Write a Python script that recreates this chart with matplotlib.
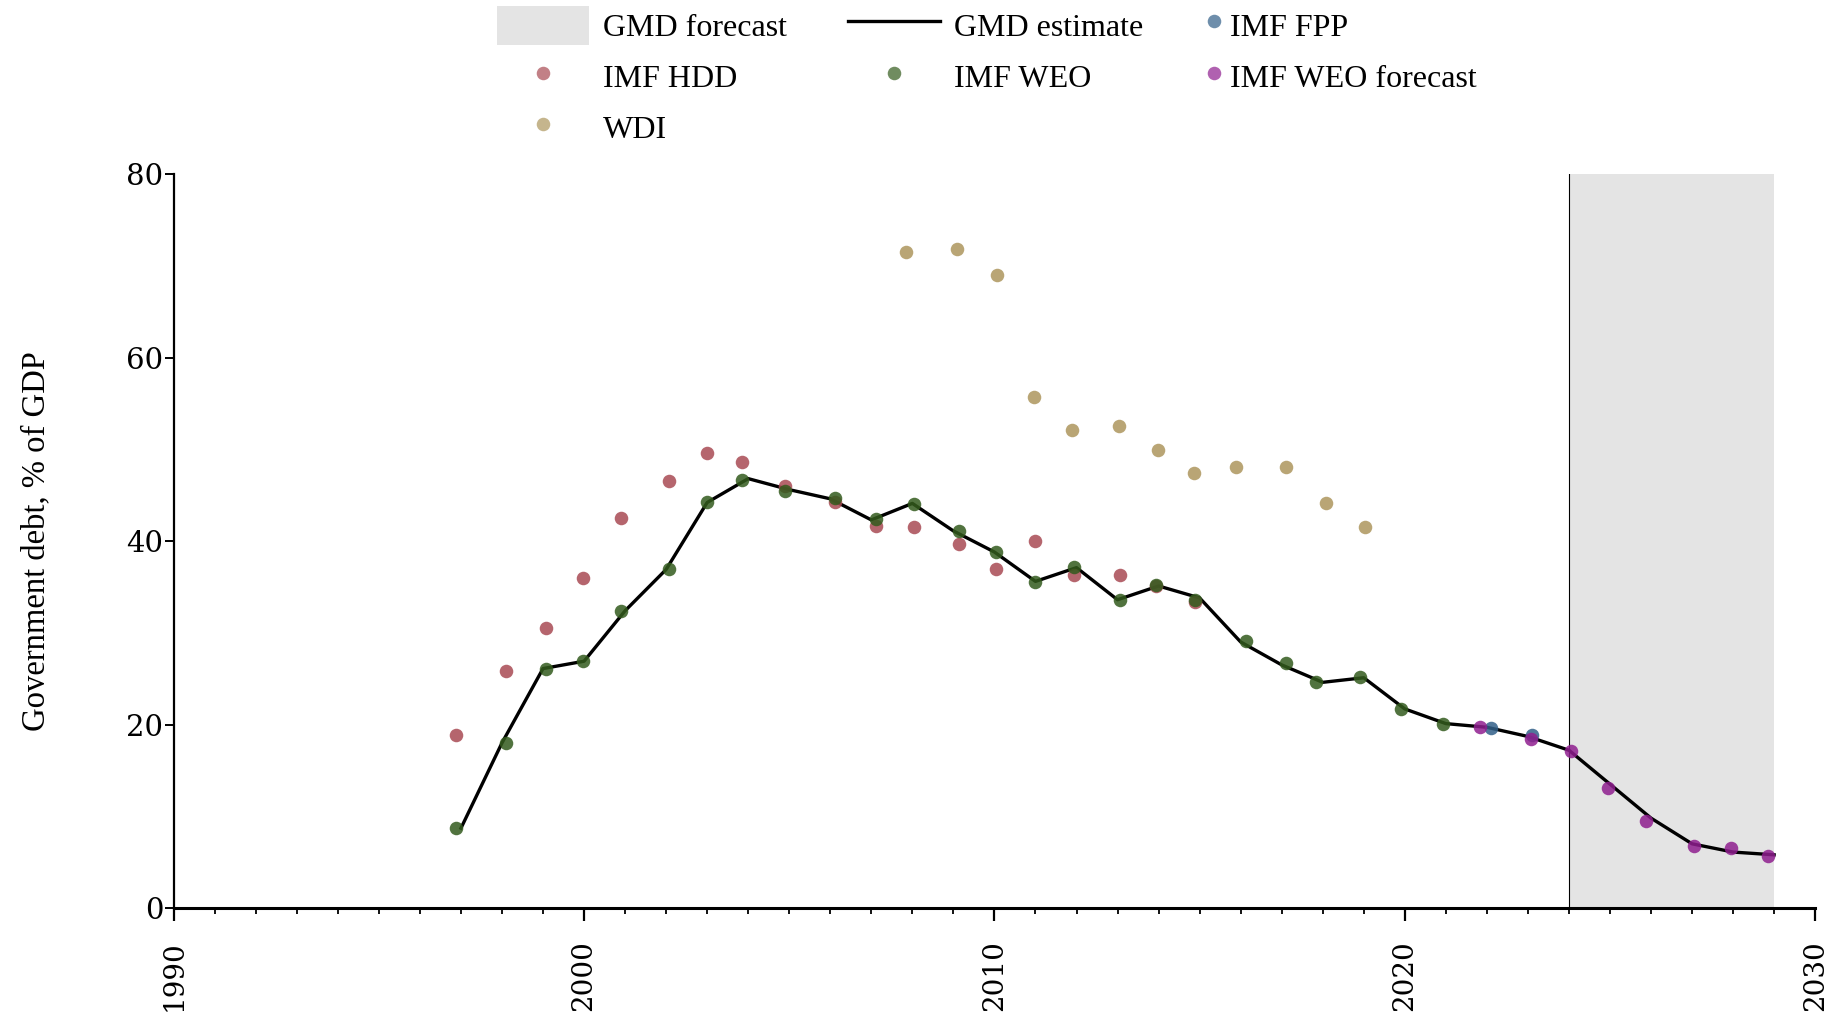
import matplotlib
matplotlib.use("Agg")
import matplotlib.pyplot as plt
from matplotlib.patches import Patch
from matplotlib.lines import Line2D
from matplotlib.ticker import MultipleLocator

plt.rcParams['font.family'] = ['Liberation Serif', 'DejaVu Serif']

# GMD estimate (line), yearly
gmd_years = list(range(1997, 2030))
gmd_values = [8.7, 18.0, 26.1, 26.9, 32.4, 36.9, 44.2, 46.8, 45.6, 44.6,
              42.3, 44.1, 41.1, 38.8, 35.6, 37.1, 33.6, 35.1, 33.8, 29.0,
              26.5, 24.6, 25.1, 21.7, 20.1, 19.7, 18.7, 17.2, 13.5, 9.8,
              7.0, 6.1, 5.8]

# source points (x = year as placed on the chart, slightly jittered)
weo_x = [1996.87, 1998.10, 1999.08, 1999.98, 2000.89, 2002.06, 2002.99, 2003.86,
         2004.90, 2006.11, 2007.11, 2008.03, 2009.13, 2010.04, 2011.00, 2011.95,
         2013.05, 2013.94, 2014.89, 2016.13, 2017.10, 2017.84, 2018.92, 2019.90,
         2020.94]
weo_values = [8.7, 18.0, 26.1, 26.9, 32.4, 36.9, 44.2, 46.7, 45.5, 44.7,
              42.4, 44.05, 41.1, 38.8, 35.5, 37.15, 33.6, 35.2, 33.6, 29.1,
              26.7, 24.6, 25.2, 21.7, 20.1]

hdd_x = weo_x[:19]
hdd_values = [18.9, 25.8, 30.5, 36.0, 42.5, 46.55, 49.6, 48.65, 46.0, 44.3,
              41.6, 41.5, 39.7, 36.9, 39.95, 36.35, 36.3, 35.1, 33.4]

wdi_x = [2007.85, 2009.09, 2010.07, 2010.97, 2011.89, 2013.04, 2013.98, 2014.86,
         2015.88, 2017.10, 2018.09, 2019.02]
wdi_values = [71.55, 71.8, 68.97, 55.7, 52.1, 52.54, 49.93, 47.42, 48.1, 48.05,
              44.17, 41.48]

fpp_x = [2022.11, 2023.09]
fpp_values = [19.67, 18.87]

weof_x = [2021.83, 2023.07, 2024.06, 2024.96, 2025.87, 2027.04, 2027.96, 2028.86]
weof_values = [19.74, 18.47, 17.09, 13.1, 9.47, 6.78, 6.5, 5.7]

forecast_start, forecast_end = 2024, 2029

fig = plt.figure(figsize=(18.4, 10.14), dpi=100)
ax = fig.add_axes([0.0944, 0.1045, 0.8921, 0.7239])

ax.axvspan(forecast_start, forecast_end, color='#e4e4e4', lw=0, zorder=0)
ax.axvline(forecast_start, color='black', lw=0.8, zorder=1)

ax.plot(gmd_years, gmd_values, color='black', lw=2.4, zorder=2)

ms = 95
a = 0.85
fpp = ax.scatter(fpp_x, fpp_values, s=ms, color='#315f88', alpha=a, lw=0, zorder=3)
hdd = ax.scatter(hdd_x, hdd_values, s=ms, color='#a84a53', alpha=a, lw=0, zorder=3)
weo = ax.scatter(weo_x, weo_values, s=ms, color='#335b1d', alpha=a, lw=0, zorder=3)
weof = ax.scatter(weof_x, weof_values, s=ms, color='#8f1e8f', alpha=a, lw=0, zorder=3)
wdi = ax.scatter(wdi_x, wdi_values, s=ms, color='#ad965d', alpha=a, lw=0, zorder=3)

ax.set_xlim(1990, 2030)
ax.set_ylim(0, 80)
ax.xaxis.set_major_locator(MultipleLocator(10))
ax.xaxis.set_minor_locator(MultipleLocator(1))
ax.yaxis.set_major_locator(MultipleLocator(20))

for s in ['top', 'right']:
    ax.spines[s].set_visible(False)
ax.spines['left'].set_linewidth(1.6)
ax.spines['bottom'].set_linewidth(2.2)

ax.tick_params(axis='x', which='major', length=9, width=1.6, labelsize=20,
               labelrotation=90, pad=14)
ax.tick_params(axis='x', which='minor', length=4.5, width=1.3)
ax.tick_params(axis='y', length=6.5, width=1.4, labelsize=21, pad=1)
for lab in ax.get_xticklabels() + ax.get_yticklabels():
    lab.set_family('DejaVu Serif')

ax.set_ylabel('Government debt, % of GDP', fontsize=23.5, va='center')
ax.yaxis.set_label_coords(-0.084, 0.5)

gmd_patch = Patch(facecolor='#e4e4e4', edgecolor='none')
gmd_line = Line2D([], [], color='black', lw=2.4)

fs = 23
leg1 = fig.legend(handles=[gmd_patch, hdd, wdi, gmd_line, weo],
                  labels=['GMD forecast', 'IMF HDD', 'WDI', 'GMD estimate', 'IMF WEO'],
                  ncol=2, loc='upper left', bbox_to_anchor=(0.270, 0.994),
                  frameon=False, fontsize=fs, handlelength=2.88, handleheight=1.5,
                  handletextpad=0.45, columnspacing=1.9, labelspacing=0.38,
                  borderpad=0, borderaxespad=0, markerscale=1.0, scatterpoints=1)
leg2 = fig.legend(handles=[fpp, weof], labels=['IMF FPP', 'IMF WEO forecast'],
                  ncol=1, loc='upper left', bbox_to_anchor=(0.6555, 0.994),
                  frameon=False, fontsize=fs, handlelength=0.5, handleheight=1.5,
                  handletextpad=0.25, labelspacing=0.38,
                  borderpad=0, borderaxespad=0, markerscale=1.0, scatterpoints=1)
for leg in (leg1, leg2):
    for h in leg.legend_handles:
        if not isinstance(h, (Patch, Line2D)):
            h.set_alpha(0.7)

fig.savefig('out.png', dpi=100)
